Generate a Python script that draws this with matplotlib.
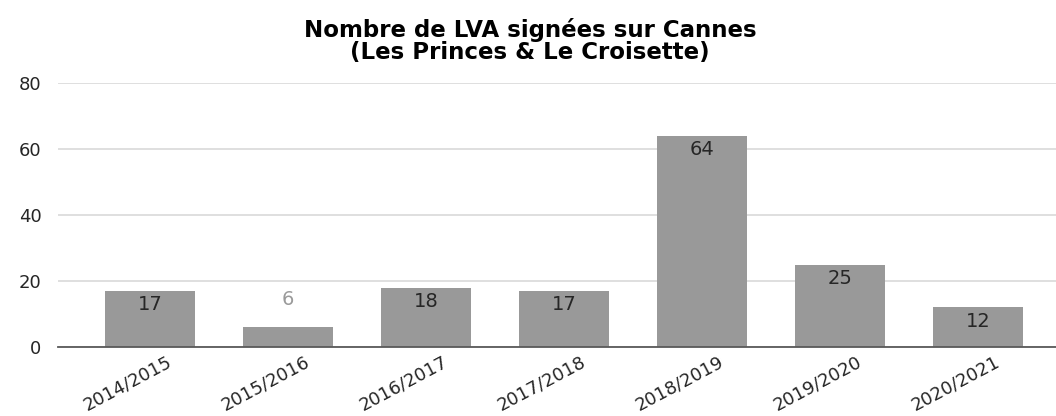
import matplotlib.pyplot as plt

seasons = ["2014/2015", "2015/2016", "2016/2017", "2017/2018",
           "2018/2019", "2019/2020", "2020/2021"]
lva_count = [17, 6, 18, 17, 64, 25, 12]

plt.rcParams["font.family"] = "DejaVu Sans"

fig = plt.figure(figsize=(10.56, 4.16), dpi=100)
ax = fig.add_axes([58 / 1056, 69 / 416, 1 - 58 / 1056, 264 / 416])

x = list(range(len(seasons)))
bars = ax.bar(x, lva_count, width=0.645, color="#999999", zorder=2)

for rect, v in zip(bars, lva_count):
    cx = rect.get_x() + rect.get_width() / 2
    if v >= 10:
        ax.annotate(str(v), (cx, v), xytext=(0, -10), textcoords="offset points",
                    ha="center", va="center", fontsize=14, color="#262626")
    else:
        ax.annotate(str(v), (cx, v), xytext=(0, 20), textcoords="offset points",
                    ha="center", va="center", fontsize=14, color="#9a9a9a")

ax.set_ylim(0, 80)
ax.set_yticks([0, 20, 40, 60, 80])
ax.set_xlim(-0.5 - 23 / 138, 6.5 + 9 / 138)
ax.set_xticks(x)
ax.set_xticklabels(seasons, rotation=28, ha="right", rotation_mode="anchor",
                   fontsize=13, color="#262626")
ax.tick_params(axis="y", labelsize=13, labelcolor="#262626", length=0, pad=12)
ax.tick_params(axis="x", length=0, pad=4)
for lbl in ax.get_xticklabels():
    lbl.set_transform(lbl.get_transform() +
                      __import__("matplotlib").transforms.ScaledTranslation(0.16, 0, fig.dpi_scale_trans))
ax.yaxis.grid(True, color="#d9d9d9", linewidth=1.2, zorder=0)
for s in ["top", "right", "left"]:
    ax.spines[s].set_visible(False)
ax.spines["bottom"].set_color("#595959")
ax.spines["bottom"].set_linewidth(1.3)
ax.spines["bottom"].set_zorder(3)

fig.text(0.502, 1 - 30 / 416, "Nombre de LVA signées sur Cannes",
         ha="center", va="center", fontsize=16.5, fontweight="bold")
fig.text(0.502, 1 - 52 / 416, "(Les Princes & Le Croisette)",
         ha="center", va="center", fontsize=16.5, fontweight="bold")

fig.savefig("out.png", dpi=100)
